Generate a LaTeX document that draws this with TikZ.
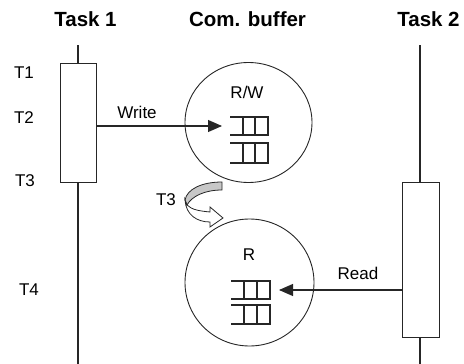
\documentclass[tikz,border=0pt]{standalone}
\usepackage{fontspec}
\setmainfont{Liberation Sans}
\usetikzlibrary{shapes.geometric,arrows.meta}
\begin{document}
\begin{tikzpicture}[x=1pt,y=-1pt,
  hdr/.style={font=\fontsize{20.5}{22}\selectfont\bfseries, inner sep=0pt},
  lbl/.style={font=\fontsize{17}{19}\selectfont, inner sep=0pt},
  life/.style={line width=1.1pt, draw=black!85},
  taskbox/.style={draw=black!85, line width=1.1pt, fill=white},
  buf/.style={draw=black!85, line width=0.9pt, ellipse, inner sep=0pt},
  cell/.style={draw=black!85, line width=1.1pt},
  msg/.style={line width=1.1pt, draw=black!85, -{Triangle[length=14pt,width=12pt]}}
]
\useasboundingbox (0,0) rectangle (464,364);
% headers
\node[hdr] (h1) at (85.5,19) {Task 1};
\node[hdr] (h2) at (247.5,19) {Com. buffer};
\node[hdr] (h3) at (428.5,19) {Task 2};
% time labels
\node[lbl] (t1) at (24,73) {T1};
\node[lbl] (t2) at (24,118) {T2};
\node[lbl] (t3) at (25,181) {T3};
\node[lbl] (t4) at (29,290) {T4};
% lifelines
\coordinate (l1top) at (78,45);
\coordinate (l1bot) at (78,364);
\coordinate (l2top) at (420,45);
\coordinate (l2bot) at (420,364);
\draw[life] (l1top) -- (l1bot);
\draw[life] (l2top) -- (l2bot);
\node[taskbox, minimum width=36pt, minimum height=119pt, inner sep=0pt, anchor=north west] (box1) at (60,63) {};
\node[taskbox, minimum width=37pt, minimum height=155pt, inner sep=0pt, anchor=north west] (box2) at (402,182) {};
% buffers
\node[buf, minimum width=127pt, minimum height=120pt] (rw) at (248.5,122.5) {};
\node[buf, minimum width=129pt, minimum height=127pt] (r) at (249.5,282.5) {};
\node[lbl] (rwl) at (247,92) {R/W};
\node[lbl] (rl) at (249,255) {R};
% buffer cells top
\draw[cell] (230,117) -- (268,117) -- (268,135) -- (230,135);
\draw[cell] (243,117) -- (243,135) (255,117) -- (255,135);
\draw[cell] (230,143) -- (268,143) -- (268,163) -- (230,163);
\draw[cell] (243,143) -- (243,163) (255,143) -- (255,163);
% buffer cells bottom
\draw[cell] (231,281) -- (270,281) -- (270,299) -- (231,299);
\draw[cell] (244,281) -- (244,299) (257,281) -- (257,299);
\draw[cell] (231,305) -- (270,305) -- (270,324) -- (231,324);
\draw[cell] (244,305) -- (244,324) (257,305) -- (257,324);
% messages
\coordinate (wtip) at (222,126);
\coordinate (rtip) at (279,290);
\draw[msg] (box1.east |- wtip) -- (wtip);
\draw[msg] (box2.west |- rtip) -- (rtip);
\node[lbl] (wl) at (137,112) {Write};
\node[lbl] (rdl) at (358,273) {Read};
% T3 transition arrow
\node[lbl] (t3b) at (166,200) {T3};
\draw[line width=0.8pt, draw=black!85, fill=black!22]
  (222,182) .. controls (202,182) and (187,189) .. (185,200)
  -- (187,205) .. controls (192,196) and (205,190) .. (222,190) -- cycle;
\draw[line width=0.8pt, draw=black!85, fill=white]
  (187,205) .. controls (192,210) and (200,211) .. (210,212)
  -- (210,207) -- (223,218) -- (210,227) -- (210,222)
  .. controls (197,222) and (186,215) .. (185,200) -- cycle;
\end{tikzpicture}
\end{document}
